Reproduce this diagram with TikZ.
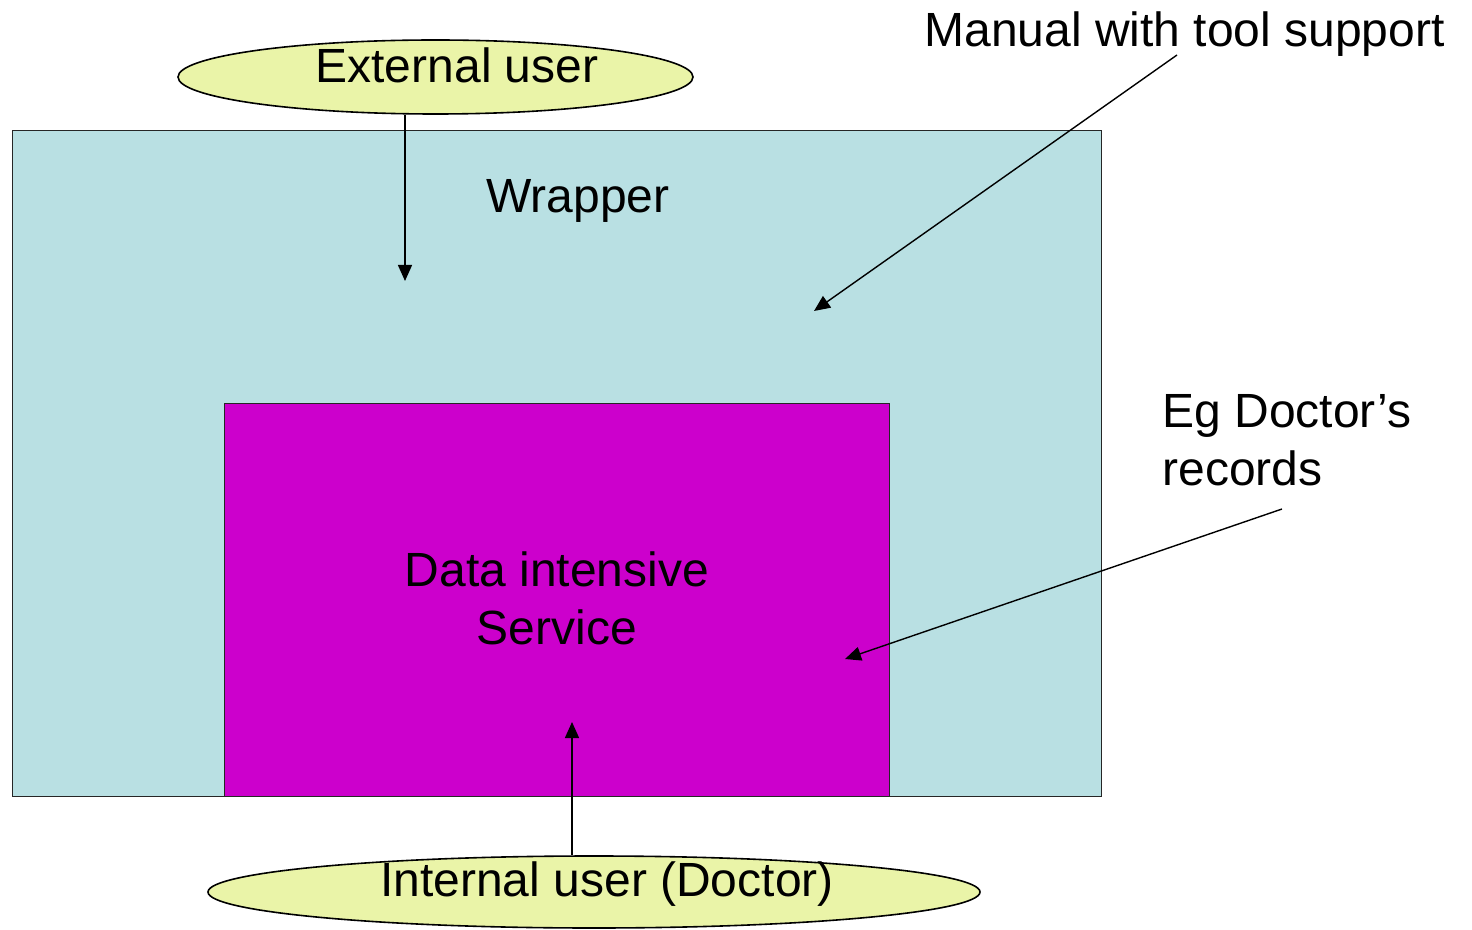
\documentclass[tikz,border=0pt]{standalone}
\usepackage{fontspec}
\setmainfont{Liberation Sans}
\usetikzlibrary{shapes.geometric,arrows.meta}
\definecolor{wrapfill}{RGB}{185,224,227}
\definecolor{svcfill}{RGB}{204,0,204}
\definecolor{userfill}{RGB}{234,244,168}
\begin{document}
\begin{tikzpicture}[x=0.5pt,y=-0.5pt,
  box/.style={draw=black!85,line width=0.7pt},
  user/.style={ellipse,draw=black,fill=userfill,line width=0.8pt,inner sep=0pt},
  lbl/.style={inner sep=0pt,font=\fontsize{24}{29}\selectfont},
  conn/.style={draw=black,line width=0.7pt,-{Triangle[length=8pt,width=7pt]}}]
\useasboundingbox (0,0) rectangle (1472,930);
% wrapper and inner service
\node[box,fill=wrapfill,anchor=north west,minimum width=544.5pt,minimum height=333pt] (wrap) at (12,130) {};
\node[box,fill=svcfill,anchor=north west,minimum width=332.5pt,minimum height=196.5pt] (svc) at (224,403) {};
% user ellipses
\node[user,minimum width=257.5pt,minimum height=37pt] (ext) at (435.5,77) {};
\node[user,minimum width=386pt,minimum height=36pt] (int) at (594,892) {};
% texts
\node[lbl] (extT) at (457,65) {External user};
\node[lbl] (intT) at (607,884) {Internal user (Doctor)};
\node[lbl] (wrapT) at (578,201) {Wrapper};
\node[lbl,align=center] (svcT) at (557,598) {Data intensive\\[0pt]Service};
\node[lbl,anchor=west] (manT) at (924,34) {Manual with tool support};
\node[lbl,anchor=north west,align=left] (egT) at (1162,394) {Eg Doctor’s\\records};
% arrow end points
\coordinate (extTip) at (405,281);
\coordinate (manFrom) at (1177,55);
\coordinate (manTip) at (814,311);
\coordinate (egFrom) at (1282,509);
\coordinate (egTip) at (845,659);
\coordinate (intTip) at (572,722);
% connectors
\draw[conn] (ext.south -| extTip) -- (extTip);
\draw[conn] (manFrom) -- (manTip);
\draw[conn] (egFrom) -- (egTip);
\draw[conn] (int.north -| intTip) -- (intTip);
\end{tikzpicture}
\end{document}
